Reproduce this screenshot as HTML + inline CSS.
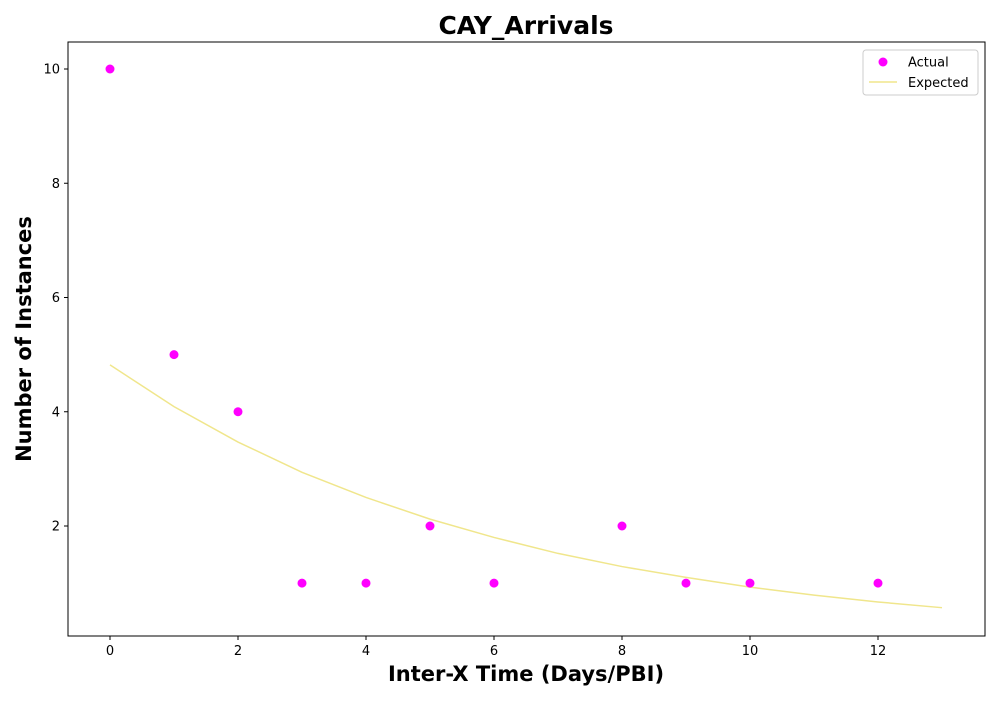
<!DOCTYPE html>
<html><head><meta charset="utf-8"><style>
body{margin:0;background:#fff;}
svg text{font-family:"DejaVu Sans","Liberation Sans",sans-serif;}
</style></head><body>
<svg id="chart" width="1000" height="700" xmlns="http://www.w3.org/2000/svg"></svg>
<script>
const actualX=[0,1,2,3,4,5,6,8,9,10,12];
const actualY=[10,5,4,1,1,2,1,2,1,1,1];
const expectedX=[0,1,2,3,4,5,6,7,8,9,10,11,12,13];
const expectedY=[4.82,4.09,3.47,2.94,2.50,2.12,1.80,1.52,1.29,1.10,0.93,0.79,0.67,0.57];
const xTicks=[0,2,4,6,8,10,12];
const yTicks=[2,4,6,8,10];

const svg=document.getElementById('chart');
const NS='http://www.w3.org/2000/svg';
const L=68,R=985,T=42,B=636;
function sx(v){return 110+v*64;}
function sy(v){return 640.25-v*57.125;}
function mk(tag,attrs,name,parent){const e=document.createElementNS(NS,tag);for(const k in attrs)e.setAttribute(k,attrs[k]);


(parent||svg).appendChild(e);return e;}
function txt(s,attrs,name){const e=mk('text',attrs,name);e.textContent=s;return e;}

txt('CAY_Arrivals',{x:526,y:34,'text-anchor':'middle','font-size':25,'font-weight':'bold'},'chart-title');
mk('rect',{x:L,y:T,width:R-L,height:B-T,fill:'none',stroke:'#000','stroke-width':1},'plot-frame');
xTicks.forEach(t=>{const x=sx(t);
mk('line',{x1:x,x2:x,y1:B,y2:B+4,stroke:'#000'},'x-tick');
txt(String(t),{x:x,y:B+19,'text-anchor':'middle','font-size':13},'x-tick-label');});
yTicks.forEach(t=>{const y=sy(t);
mk('line',{x1:L-4,x2:L,y1:y,y2:y,stroke:'#000'},'y-tick');
txt(String(t),{x:L-8,y:y+4.5,'text-anchor':'end','font-size':13},'y-tick-label');});
txt('Inter-X Time (Days/PBI)',{x:526,y:681,'text-anchor':'middle','font-size':21,'font-weight':'bold'},'x-axis-title');
txt('Number of Instances',{x:31,y:339,'text-anchor':'middle','font-size':21,'font-weight':'bold',transform:'rotate(-90 31 339)'},'y-axis-title');

let d=expectedX.map((x,i)=>(i?'L':'M')+sx(x)+','+sy(expectedY[i])).join(' ');
mk('path',{d:d,fill:'none',stroke:'#f0e68c','stroke-width':1.5},'expected-line');
actualX.forEach((x,i)=>{mk('circle',{cx:sx(x),cy:sy(actualY[i]),r:4.5,fill:'#ff00ff'},'actual-point');});

mk('rect',{x:863,y:50,width:115,height:45,rx:3,fill:'#fff',stroke:'#ccc'},'legend-box');
mk('circle',{cx:883,cy:62,r:4.5,fill:'#ff00ff'},'legend-actual-marker');
txt('Actual',{x:908,y:66.5,'font-size':13},'legend-actual-label');
mk('line',{x1:869,x2:897,y1:82,y2:82,stroke:'#f0e68c','stroke-width':1.5},'legend-expected-line');
txt('Expected',{x:908,y:87,'font-size':13},'legend-expected-label');
</script>
</body></html>
